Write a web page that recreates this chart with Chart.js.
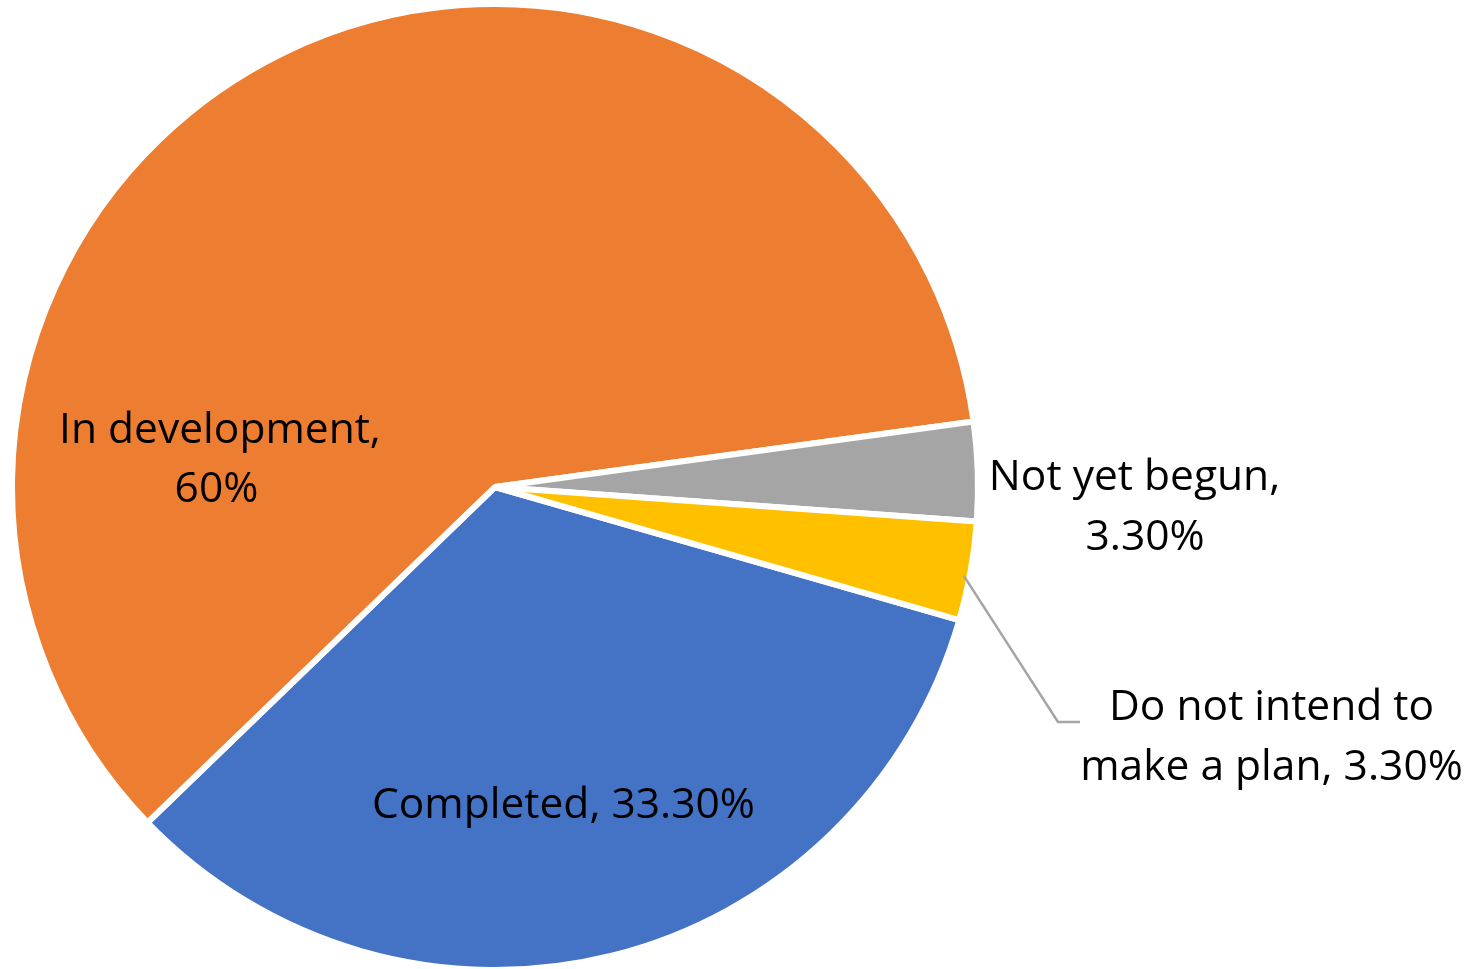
<!DOCTYPE html>
<html>
<head>
<meta charset="utf-8">
<script src="https://cdn.jsdelivr.net/npm/chart.js@4.4.1/dist/chart.umd.min.js"></script>
<style>
    html, body { margin: 0; padding: 0; background: #ffffff; }
    #wrap { width: 1478px; height: 969px; position: relative; }
</style>
</head>
<body>
<div id="wrap"><canvas id="pie"></canvas></div>
<script>
// chart data
const categories = ['Completed', 'In development', 'Not yet begun', 'Do not intend to make a plan'];
const shares = [33.3, 60, 3.3, 3.3];
const shareLabels = ['33.30%', '60%', '3.30%', '3.30%'];
const sliceColors = ['#4472C4', '#ED7D31', '#A5A5A5', '#FFC000'];

// data label lines: offsets from pie centre in radius units (x = line centre, y = baseline)
const labelLines = [
    { text: 'Completed, 33.30%', x: 0.1418, y: 0.6853 },
    { text: 'In development,', x: -0.5694, y: -0.0911 },
    { text: '60%', x: -0.5766, y: 0.0311 },
    { text: 'Not yet begun,', x: 1.3240, y: 0.0062 },
    { text: '3.30%', x: 1.3458, y: 0.1304 },
    { text: 'Do not intend to', x: 1.6077, y: 0.4824 },
    { text: 'make a plan, 3.30%', x: 1.6077, y: 0.6066 }
];

const labelPlugin = {
    id: 'sliceLabels',
    afterDatasetsDraw(chart) {
        const ctx = chart.ctx;
        const arcs = chart.getDatasetMeta(0).data;
        if (!arcs.length) return;
        const cx = arcs[0].x, cy = arcs[0].y, r = arcs[0].outerRadius;

        ctx.save();
        // fit the font so the one-line label has the original width
        let size = 36;
        ctx.font = size + 'px "Open Sans"';
        const w = ctx.measureText(categories[0] + ', ' + shareLabels[0]).width;
        size = size * 0.793 * r / w;
        ctx.font = size + 'px "Open Sans"';
        ctx.fillStyle = '#000000';
        ctx.textAlign = 'center';
        ctx.textBaseline = 'alphabetic';
        labelLines.forEach(function(l) {
            ctx.fillText(l.text, cx + l.x * r, cy + l.y * r);
        });

        // leader line for the yellow slice
        const yellow = arcs[3];
        const mid = (yellow.startAngle + yellow.endAngle) / 2 + 0.012;
        ctx.strokeStyle = '#A5A5A5';
        ctx.lineWidth = 2.5;
        ctx.beginPath();
        ctx.moveTo(cx + Math.cos(mid) * r * 0.988, cy + Math.sin(mid) * r * 0.988);
        ctx.lineTo(cx + 1.1656 * r, cy + 0.4865 * r);
        ctx.lineTo(cx + 1.2112 * r, cy + 0.4865 * r);
        ctx.stroke();
        ctx.restore();
    }
};

new Chart(document.getElementById('pie'), {
    type: 'pie',
    data: {
        labels: categories,
        datasets: [{
            data: shares,
            backgroundColor: sliceColors,
            borderColor: '#ffffff',
            borderWidth: 6,
            clip: false
        }]
    },
    options: {
        responsive: true,
        maintainAspectRatio: false,
        animation: false,
        rotation: 106,
        radius: 483,
        layout: {
            padding: { left: 12, top: 5, right: 500, bottom: 0 }
        },
        plugins: {
            legend: { display: false },
            tooltip: { enabled: false }
        }
    },
    plugins: [labelPlugin]
});
</script>
</body>
</html>
